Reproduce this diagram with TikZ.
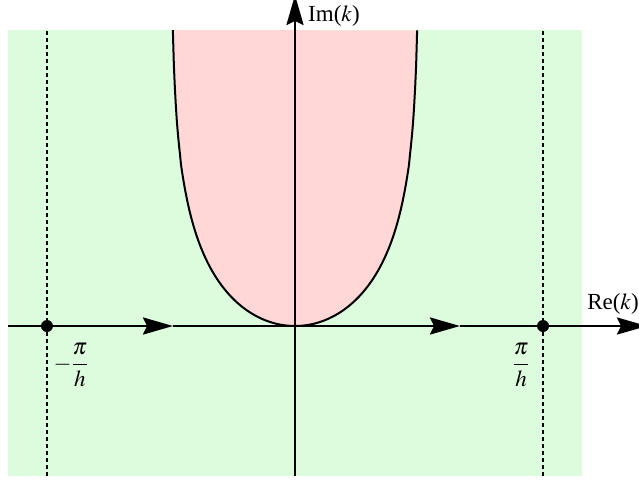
\documentclass[tikz,border=0pt]{standalone}
\usepackage{amsmath}
\usepackage{mathptmx}
\usepackage[no-math]{fontspec}
\setmainfont{Liberation Serif}
\usetikzlibrary{arrows.meta}
\definecolor{bggreen}{RGB}{221,252,221}
\definecolor{bgpink}{RGB}{255,215,215}
\begin{document}
\begin{tikzpicture}[x=1pt,y=1pt,
  axisline/.style={line width=2.6pt},
  bigtip/.style={-{Stealth[length=30pt,width=17pt,inset=4pt]}},
  curveline/.style={line width=2pt},
  dashline/.style={line width=2.3pt,dash pattern=on 4pt off 3pt},
  dotnode/.style={circle,fill=black,inner sep=0pt,minimum size=12pt},
  lab/.style={inner sep=0pt,font=\fontsize{23}{28}\selectfont}]
\useasboundingbox (-295,-157) rectangle (344,326);
\clip (-295,-157) rectangle (344,326);
% background
\fill[bggreen] (-287,-150) rectangle (287,296);
% pink region: Im k = -ln cos(Re k h)
\fill[bgpink] plot[domain=-122.14:122.14,samples=241] (\x,{-78.94*ln(cos(0.72581*\x))}) -- cycle;
\draw[curveline] plot[domain=-122.14:122.14,samples=241] (\x,{-78.94*ln(cos(0.72581*\x))});
% dashed lines
\coordinate (dlb) at (-248,-150);
\coordinate (dlt) at (-248,296);
\coordinate (drb) at (248,-150);
\coordinate (drt) at (248,296);
\draw[dashline] (dlb) -- (dlt);
\draw[dashline] (drb) -- (drt);
% axes
\coordinate (xs) at (-287,0);
\coordinate (a1) at (-122,0);
\coordinate (a2) at (165,0);
\coordinate (xe) at (352,0);
\coordinate (ys) at (0,-150);
\coordinate (ye) at (0,331);
\draw[axisline,bigtip] (xs) -- (a1);
\draw[axisline,bigtip] (a1) -- (a2);
\draw[axisline,bigtip] (a2) -- (xe);
\draw[axisline,bigtip] (ys) -- (ye);
% dots
\node[dotnode] (pl) at (-248,0) {};
\node[dotnode] (pr) at (248,0) {};
% labels
\node[lab,anchor=west] (im) at (13,310) {Im($k$)};
\node[lab] (re) at (318,22) {Re($k$)};
\node[lab] (mpi) at (-224,-39) {$-\dfrac{\pi}{h}$};
\node[lab] (ppi) at (226,-39) {$\dfrac{\pi}{h}$};
\end{tikzpicture}
\end{document}
